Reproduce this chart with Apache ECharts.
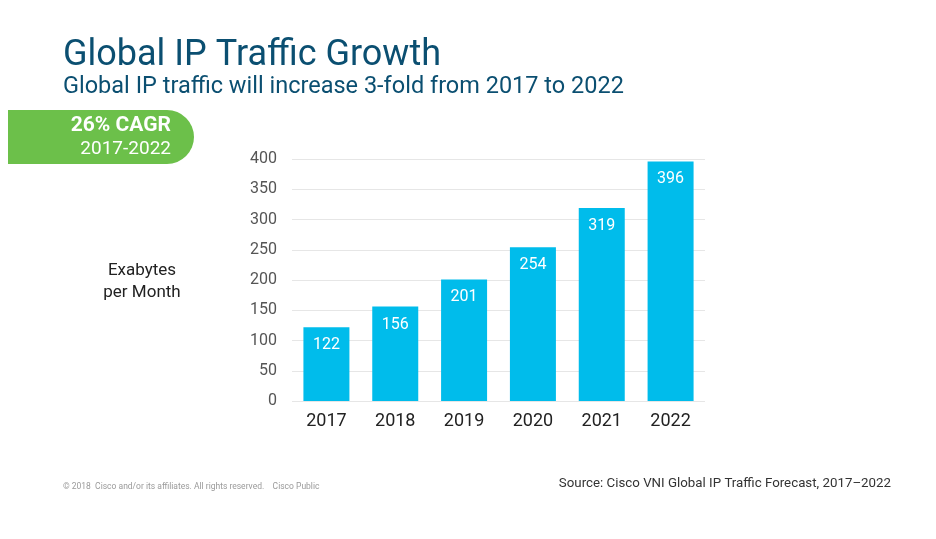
<!DOCTYPE html>
<html lang="en">
<head>
    <meta charset="UTF-8">
    <title>Global IP Traffic Growth</title>
    <script src="https://cdn.jsdelivr.net/npm/echarts@6/dist/echarts.min.js"></script>
    <style>
        html, body { margin: 0; padding: 0; background: #fff; }
        #container { width: 936px; height: 539px; }
    </style>
</head>
<body>
<div id="container"></div>
<script type="text/javascript">
    // chart data
    var years = ['2017', '2018', '2019', '2020', '2021', '2022'];
    var exabytes = [122, 156, 201, 254, 319, 396];
    var yTicks = [0, 50, 100, 150, 200, 250, 300, 350, 400];

    var font = 'Roboto, "Open Sans", sans-serif';
    var myChart = echarts.init(document.getElementById('container'));

    var option = {
        backgroundColor: '#ffffff',
        animation: false,
        textStyle: { fontFamily: font },
        title: [{
            text: 'Global IP Traffic Growth',
            left: 58, top: 33,
            textStyle: { fontFamily: font, fontSize: 36, fontWeight: 'normal', color: '#0b4f71' }
        }, {
            text: 'Global IP traffic will increase 3-fold from 2017 to 2022',
            left: 58, top: 70,
            textStyle: { fontFamily: font, fontSize: 23.5, fontWeight: 'normal', color: '#0b4f71' }
        }],
        graphic: [{
            type: 'rect',
            shape: { x: 8, y: 110, width: 186, height: 54, r: [0, 27, 27, 0] },
            style: { fill: '#6cc04a' }
        }, {
            type: 'text',
            style: { x: 171, y: 126, text: '26% CAGR', fill: '#fff', align: 'right', verticalAlign: 'middle',
                font: 'bold 21px ' + font }
        }, {
            type: 'text',
            style: { x: 171, y: 149, text: '2017-2022', fill: '#fff', align: 'right', verticalAlign: 'middle',
                font: '19px ' + font }
        }, {
            type: 'text',
            style: { x: 142, y: 282, text: 'Exabytes\nper Month', fill: '#222', align: 'center', verticalAlign: 'middle',
                font: '17px ' + font, lineHeight: 22 }
        }, {
            type: 'text',
            style: { x: 63, y: 487, text: '\u00a9 2018  Cisco and/or its affiliates. All rights reserved.    Cisco Public',
                fill: '#9a9a9a', verticalAlign: 'middle', font: '8.5px ' + font }
        }, {
            type: 'text',
            style: { x: 891, y: 484, text: 'Source: Cisco VNI Global IP Traffic Forecast, 2017\u20132022',
                fill: '#333', align: 'right', verticalAlign: 'middle', font: '13.3px ' + font }
        }],
        grid: { left: 292, right: 231, top: 159, bottom: 138, containLabel: false },
        xAxis: {
            type: 'category',
            data: years,
            axisLine: { show: false },
            axisTick: { show: false },
            axisLabel: { color: '#222', fontSize: 18, margin: 11, fontFamily: font }
        },
        yAxis: {
            type: 'value',
            min: yTicks[0],
            max: yTicks[yTicks.length - 1],
            interval: yTicks[1] - yTicks[0],
            axisLine: { show: false },
            axisTick: { show: false },
            axisLabel: { color: '#555', fontSize: 16, margin: 15, fontFamily: font },
            splitLine: { lineStyle: { color: '#e6e6e6', width: 1 } }
        },
        series: [{
            type: 'bar',
            data: exabytes,
            barWidth: 46,
            itemStyle: { color: '#00bceb' },
            label: {
                show: true,
                position: 'insideTop',
                distance: 10,
                color: '#fff',
                fontSize: 16,
                fontFamily: font
            }
        }]
    };
    myChart.setOption(option);
</script>
</body>
</html>
